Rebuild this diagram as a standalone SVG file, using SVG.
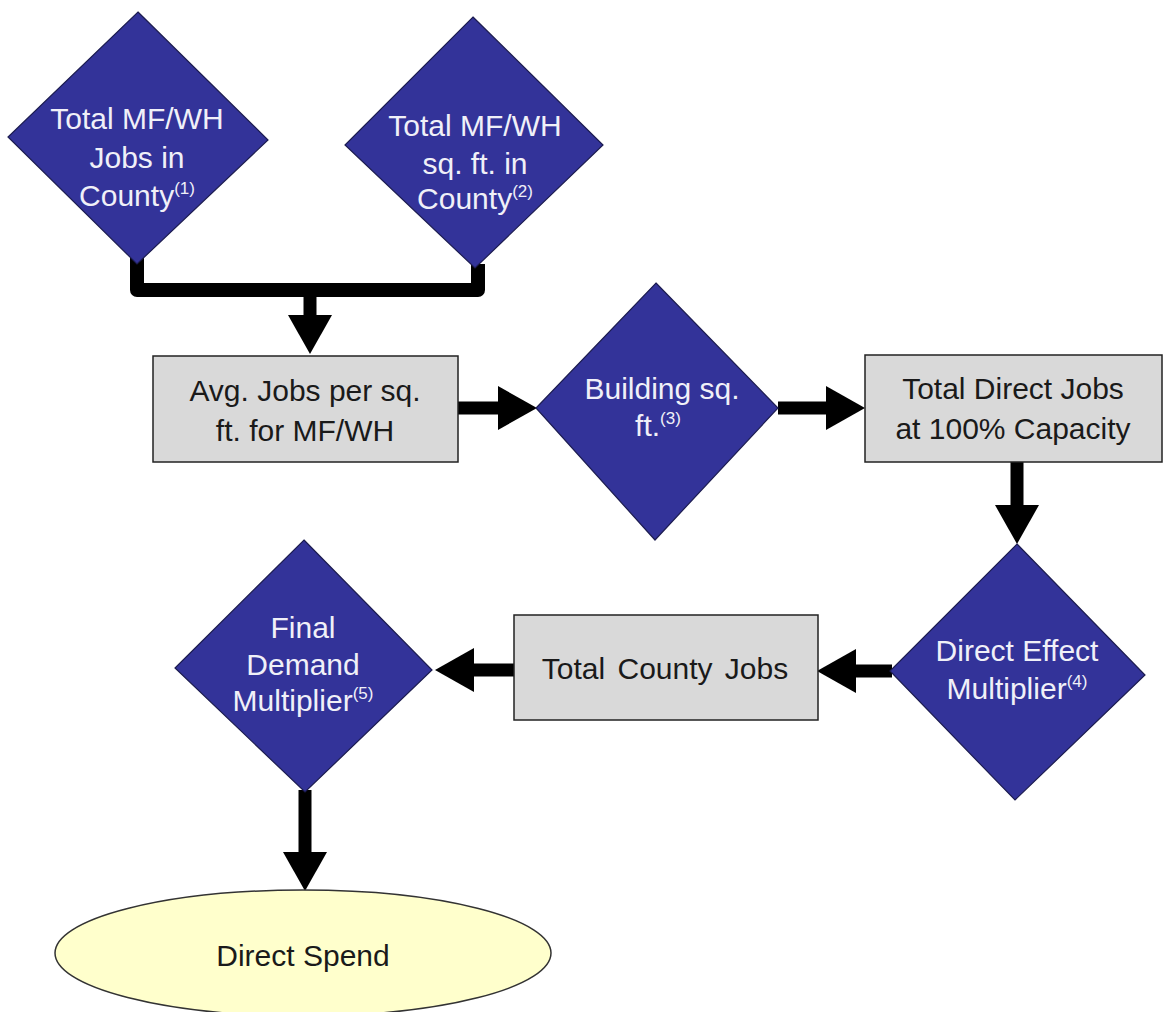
<svg xmlns="http://www.w3.org/2000/svg" width="1163" height="1012" viewBox="0 0 1163 1012">
  <style>
    .dia { fill: #333399; stroke: #1c1c50; stroke-width: 1.2; }
    .box { fill: #d9d9d9; stroke: #222; stroke-width: 1.5; }
    .ell { fill: #ffffcc; stroke: #333; stroke-width: 1.5; }
    .lt { font-family: "Liberation Sans", Arial, sans-serif; font-size: 30px; fill: #f0f0f8; text-anchor: middle; }
    .dk { font-family: "Liberation Sans", Arial, sans-serif; font-size: 30px; fill: #1a1a1a; text-anchor: middle; }
    .sup { font-size: 17px; }
    .wire { fill: none; stroke: #000; stroke-width: 14; stroke-linejoin: round; }
    .arrow { fill: none; stroke: #000; stroke-width: 13; marker-end: url(#head); }
  </style>
  <defs>
    <marker id="head" markerUnits="userSpaceOnUse" markerWidth="40" markerHeight="44" refX="0" refY="22" orient="auto">
      <path d="M0,0 L39,22 L0,44 z" fill="#000"/>
    </marker>
  </defs>
  <rect width="1163" height="1012" fill="#ffffff"/>

  <g id="connectors">
    <path class="wire" d="M137,258 V290 H478 V264"/>
    <path class="arrow" d="M310,290 V315"/>
    <path class="arrow" d="M458,408 H498"/>
    <path class="arrow" d="M778,408 H826"/>
    <path class="arrow" d="M1017,462 V505"/>
    <path class="arrow" d="M892,671 H856"/>
    <path class="arrow" d="M514,670 H474"/>
    <path class="arrow" d="M305,790 V852"/>
  </g>

  <g id="jobs-in-county">
    <polygon class="dia" points="138,12 268,140 137,264 8,137"/>
    <text class="lt" x="137" y="129">Total MF/WH</text>
    <text class="lt" x="137" y="168">Jobs in</text>
    <text class="lt" x="137" y="206">County<tspan class="sup" dy="-12">(1)</tspan></text>
  </g>

  <g id="sqft-in-county">
    <polygon class="dia" points="473,17 603,145 475,268 345,145"/>
    <text class="lt" x="475" y="136">Total MF/WH</text>
    <text class="lt" x="475" y="174">sq. ft. in</text>
    <text class="lt" x="475" y="209">County<tspan class="sup" dy="-12">(2)</tspan></text>
  </g>

  <g id="avg-jobs">
    <rect class="box" x="153" y="356" width="305" height="106"/>
    <text class="dk" x="305" y="401">Avg. Jobs per sq.</text>
    <text class="dk" x="305" y="441">ft. for MF/WH</text>
  </g>

  <g id="building-sqft">
    <polygon class="dia" points="656,283 778,408 655,540 536,408"/>
    <text class="lt" x="662" y="399">Building sq.</text>
    <text class="lt" x="658" y="436">ft.<tspan class="sup" dy="-12">(3)</tspan></text>
  </g>

  <g id="direct-jobs">
    <rect class="box" x="865" y="355" width="297" height="107"/>
    <text class="dk" x="1013" y="399">Total Direct Jobs</text>
    <text class="dk" x="1013" y="439">at 100% Capacity</text>
  </g>

  <g id="direct-effect">
    <polygon class="dia" points="1017,544 1145,675 1015,800 890,671"/>
    <text class="lt" x="1017" y="661">Direct Effect</text>
    <text class="lt" x="1017" y="699">Multiplier<tspan class="sup" dy="-12">(4)</tspan></text>
  </g>

  <g id="county-jobs">
    <rect class="box" x="514" y="615" width="304" height="105"/>
    <text class="dk" x="665" y="679" word-spacing="4">Total County Jobs</text>
  </g>

  <g id="final-demand">
    <polygon class="dia" points="304,540 432,670 305,792 175,668"/>
    <text class="lt" x="303" y="638">Final</text>
    <text class="lt" x="303" y="675">Demand</text>
    <text class="lt" x="303" y="711">Multiplier<tspan class="sup" dy="-12">(5)</tspan></text>
  </g>

  <g id="direct-spend">
    <ellipse class="ell" cx="303" cy="953" rx="248" ry="63"/>
    <text class="dk" x="303" y="966">Direct Spend</text>
  </g>
</svg>
